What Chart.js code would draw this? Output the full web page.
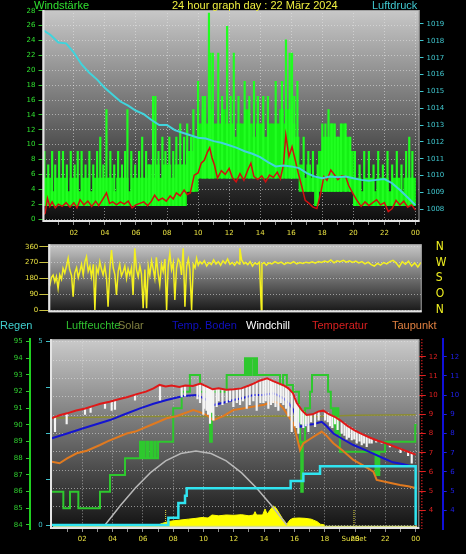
<!DOCTYPE html>
<html><head><meta charset="utf-8">
<script src="https://cdn.jsdelivr.net/npm/chart.js@4/dist/chart.umd.min.js"></script>
<style>
html,body{margin:0;padding:0;background:#000;}
body{width:466px;height:554px;position:relative;overflow:hidden;font-family:"Liberation Sans",Arial,sans-serif;}
canvas{position:absolute;left:0;}
.t{position:absolute;font-size:11px;white-space:nowrap;line-height:13px;}
</style></head><body>
<canvas id="c1" width="466" height="245" style="top:0"></canvas>
<canvas id="c2" width="466" height="84" style="top:236px"></canvas>
<canvas id="c3" width="466" height="224" style="top:330px"></canvas>
<div class="t" style="left:34px;top:-1px;color:#30e030">Windstärke</div>
<div class="t" style="left:172px;top:-1px;color:#f0f040">24 hour graph day : 22 März 2024</div>
<div class="t" style="left:372px;top:-1px;color:#40c8d0">Luftdruck</div>
<div class="t" style="left:0px;top:319px;color:#40d0d0">Regen</div>
<div class="t" style="left:66px;top:319px;color:#30c030">Luftfeuchte</div>
<div class="t" style="left:118px;top:319px;color:#808040">Solar</div>
<div class="t" style="left:172px;top:319px;color:#1010c0">Temp. Boden</div>
<div class="t" style="left:246px;top:319px;color:#ffffff">Windchill</div>
<div class="t" style="left:312px;top:319px;color:#d82020">Temperatur</div>
<div class="t" style="left:392px;top:319px;color:#e08040">Taupunkt</div>
<script>
// ---------- shared ----------
const hourTicks = [1,2,3,4,5,6,7,8,9,10,11,12,13,14,15,16,17,18,19,20,21,22,23,24];

// ---------- panel 1: wind & pressure ----------
const pressHours = [0,0.5,1,1.5,2,2.5,3,3.5,4,4.5,5,5.5,6,6.5,7,7.5,8,8.5,9,9.5,10,10.5,11,11.5,12,12.5,13,13.5,14,14.5,15,15.5,16,16.5,17,17.5,18,18.5,19,19.5,20,20.5,21,21.5,22,22.5,23,23.5,24];
const pressure = [1018.65,1018.35,1017.9,1017.85,1017.3,1016.6,1016.1,1015.7,1015.2,1014.8,1014.4,1014.15,1013.85,1013.65,1013.3,1013.0,1013.0,1012.7,1012.55,1012.4,1012.25,1012.2,1012.05,1011.95,1011.8,1011.65,1011.45,1011.3,1011.1,1010.8,1010.55,1010.6,1010.55,1010.45,1010.15,1009.95,1009.85,1009.95,1009.9,1009.95,1009.85,1009.75,1009.7,1009.75,1009.8,1009.55,1009.15,1008.7,1008.25];

const windAvgHours = [0,0.15,0.3,0.45,0.6,0.8,1,1.25,1.5,1.75,2,2.2,2.4,2.65,2.9,3.15,3.4,3.6,3.85,4.1,4.3,4.5,4.75,5,5.25,5.5,5.75,6,6.25,6.5,6.75,7,7.2,7.45,7.7,7.95,8.2,8.4,8.6,8.85,9.1,9.3,9.5,9.75,10,10.2,10.4,10.6,10.75,10.9,11.05,11.25,11.5,11.75,12,12.2,12.45,12.7,12.95,13.2,13.4,13.6,13.85,14.1,14.35,14.6,14.85,15.1,15.3,15.5,15.65,15.85,16.05,16.25,16.45,16.7,16.9,17.15,17.4,17.65,17.9,18.1,18.3,18.55,18.8,19,19.25,19.5,19.7,19.95,20.2,20.5,20.75,21,21.25,21.5,21.75,22,22.25,22.5,22.75,23,23.25,23.5,23.75,24];
const windAvg = [0.5,0.8,2.8,1.7,2.3,1.5,2.0,1.7,2.2,1.6,2.2,1.5,2.6,1.9,2.4,1.7,2.4,1.8,2.6,3.5,2.1,2.3,1.9,2.3,2.0,2.4,1.5,1.9,2.1,2.3,1.8,2.4,3.2,2.5,2.8,2.4,3.1,2.7,3.5,3.1,3.9,3.3,3.5,5.9,6.2,7.5,7.9,9.0,9.6,8.2,7.3,5.5,6.5,6.0,6.8,5.6,5.0,6.1,5.2,6.6,7.5,5.7,5.3,5.8,5.0,5.9,5.6,6.3,5.4,7.3,11.3,8.4,9.7,8.0,6.2,4.2,2.5,2.1,1.6,1.4,3.5,5.7,5.2,6.6,5.9,5.3,5.8,5.7,4.5,3.5,2.6,1.7,2.3,1.8,2.2,2.6,1.9,2.2,1.0,1.4,2.5,1.9,2.4,1.6,1.9,1.2];

// gusts, 15-minute bins: band low / band high
const gustBinLength = 0.25;
const gustLow = [
1.8,1.8,1.8,1.8,1.8,1.8,1.8,1.8,
1.8,1.8,1.8,1.8,1.8,1.8,1.8,1.8,
1.8,1.8,1.8,1.8,1.8,1.8,1.8,1.8,
1.8,1.8,1.8,1.8,1.8,1.8,1.8,1.8,
1.8,1.8,1.8,1.8,1.8,3.7,3.7,3.7,
5.5,5.5,5.5,5.5,5.5,5.5,5.5,5.5,
5.5,5.5,5.5,5.5,5.5,5.5,5.5,5.5,
5.5,5.5,5.5,5.5,5.5,5.5,5.5,5.5,
5.5,5.5,3.7,3.7,3.7,3.7,1.8,3.7,
3.7,3.7,3.7,3.7,3.7,3.7,3.7,3.7,
1.8,1.8,1.8,1.8,1.8,1.8,1.8,1.8,
1.8,1.8,1.8,1.8,1.8,1.8,1.8,1.8];
const gustHigh = [
5.5,5.5,3.7,5.5,5.5,5.5,3.7,5.5,
5.5,3.7,5.5,5.5,3.7,5.5,5.5,5.5,
5.5,5.5,3.7,5.5,5.5,5.5,3.7,5.5,
5.5,5.5,5.5,7.3,5.5,7.3,5.5,7.3,
7.3,5.5,7.3,7.3,7.3,9.1,9.1,11,
12.8,14.7,12.8,14.7,12.8,12.8,14.7,12.8,
12.8,11,12.8,12.8,14.7,12.8,11,12.8,
12.8,11,12.8,12.8,12.8,14.7,12.8,14.7,
12.8,11,7.3,5.5,7.3,5.5,5.5,9.1,
11,11,12.8,11,11,12.8,11,9.1,
5.5,5.5,3.7,5.5,5.5,3.7,5.5,5.5,
5.5,3.7,5.5,5.5,3.7,5.5,5.5,5.5];
const gustSpikeHours = [0.1,0.35,0.6,0.8,1.05,1.3,1.55,1.8,2.05,2.25,2.5,2.75,3.0,3.25,3.5,3.7,3.9,4.1,4.35,4.6,4.85,5.1,5.3,5.45,5.7,5.95,6.2,6.4,6.65,6.85,7.1,7.25,7.45,7.7,7.9,8.15,8.4,8.6,8.85,9.1,9.3,9.55,9.7,
10.0,10.3,10.45,10.7,10.8,10.95,11.3,11.55,11.87,12.1,12.3,12.6,13.0,13.3,13.6,13.85,14.2,14.5,15.0,15.4,15.66,15.9,16.05,16.2,16.4,
16.8,17.1,17.4,17.7,18.0,18.2,18.4,18.6,18.8,19.0,19.2,19.5,19.8,20.1,20.4,20.7,21.0,21.3,21.6,21.9,22.2,22.5,22.8,23.1,23.4,23.6,23.8];
const gustSpikeTop = [9.1,7.3,9.1,7.3,9.1,9.1,7.3,9.1,7.3,9.1,9.1,7.3,9.1,7.3,9.1,11,7.3,14.7,9.1,7.3,9.1,7.3,9.1,14.7,9.1,7.3,9.1,11,9.1,7.3,16.5,16.5,9.1,11,9.1,11,9.1,11,12.8,11,12.8,11,14.7,
18.5,16.5,16.5,27.7,22.3,22.3,22.3,16.5,25.9,16.5,22.3,16.5,18.5,16.5,18.5,16.5,16.5,16.5,18.5,18.5,24.1,22.3,22.3,16.5,18.5,
11,9.1,9.1,7.3,12.8,12.8,14.7,12.8,12.8,11,12.8,12.8,11,9.1,7.3,9.1,9.1,7.3,9.1,7.3,9.1,7.3,9.1,7.3,9.1,11,9.1];

// ---------- panel 2: wind direction ----------
const dirHours = [0,0.1,0.2,0.31,0.42,0.52,0.63,0.74,0.85,0.95,1.06,1.17,1.28,1.38,1.5,1.6,1.7,1.82,1.93,2.03,2.14,2.25,2.36,2.46,2.57,2.68,2.78,2.9,3.0,3.1,3.21,3.32,3.43,3.53,3.64,3.75,3.85,3.96,4.07,4.18,4.29,4.39,4.5,4.6,4.71,4.82,4.93,5.04,5.14,5.25,5.36,5.46,5.57,5.68,5.79,5.9,6.0,6.11,6.22,6.33,6.44,6.54,6.65,6.75,6.86,6.96,7.07,7.18,7.29,7.4,7.51,7.62,7.72,7.83,7.94,8.05,8.15,8.26,8.37,8.47,8.58,8.69,8.8,8.91,9.02,9.12,9.23,9.34,9.45,9.55,9.66,9.77,
9.9,10.05,10.2,10.35,10.5,10.65,10.8,10.95,11.1,11.25,11.4,11.55,11.7,11.85,12.0,12.15,12.3,12.34,12.45,12.6,12.7,12.85,13.0,13.15,13.3,13.45,13.6,13.72,13.76,13.9,14.05,14.2,14.4,14.6,14.8,15.0,15.2,15.4,15.6,15.8,16.0,16.2,16.4,16.6,16.8,17.0,17.2,17.4,17.6,17.8,18.0,18.2,18.4,18.6,18.8,19.0,19.2,19.4,19.6,19.8,20.0,20.2,20.4,20.6,20.8,21.0,21.2,21.4,21.6,21.8,22.0,22.2,22.4,22.6,22.8,23.0,23.2,23.4,23.6,23.8,24.0];
const windDir = [150,142,185,199,160,190,123,200,175,237,210,250,294,230,195,76,210,240,185,218,260,200,275,303,220,250,190,260,0,240,210,275,230,200,250,180,19,230,341,240,200,85,220,260,195,218,250,180,235,200,240,85,351,230,190,250,205,10,230,10,250,200,280,237,180,300,210,142,260,220,290,0,250,322,230,270,57,240,290,275,200,351,19,250,290,230,0,260,240,294,255,275,
262,280,250,270,258,285,262,275,255,280,265,290,260,270,255,275,262,351,285,262,270,258,275,250,268,260,272,0,262,270,255,268,262,275,265,272,260,270,265,275,262,270,265,272,268,274,266,276,270,278,272,285,268,280,275,282,272,280,270,278,268,275,262,272,258,250,265,255,270,262,275,282,268,245,275,260,278,250,268,245,270];
const dirTicks = [0,90,180,270,360];
const dirLetters = ['N','O','S','W','N'];

// ---------- panel 3 ----------
const tempHours = [0,0.5,1,1.6,2.2,2.8,3.2,3.8,4.4,5,5.6,6.2,6.7,7.1,7.5,7.9,8.4,8.8,9.3,9.8,10.2,10.6,11,11.5,12,12.5,13,13.3,13.7,14.2,14.6,15,15.3,15.6,15.9,16.15,16.5,16.8,17.2,17.6,17.9,18.3,18.7,19,19.5,20,20.5,21,21.5,22,22.5,23,23.5,24];
const temperature = [8.8,8.95,9.05,9.2,9.3,9.45,9.55,9.65,9.78,9.9,10.05,10.18,10.35,10.53,10.45,10.5,10.42,10.5,10.48,10.6,10.45,10.3,10.35,10.28,10.3,10.35,10.5,10.6,10.75,10.87,10.73,10.6,10.5,10.35,10.1,9.6,9.2,8.96,9.0,9.15,9.19,9.0,8.85,8.7,8.4,8.15,7.95,7.78,7.62,7.5,7.35,7.2,7.05,6.9];

const wcHours = [0.2,0.97,2.18,2.55,3.5,3.94,4.16,5.48,7.13,8.56,8.78,9.6,9.77,9.99,10.05,10.2,10.3,10.43,10.55,10.65,10.87,11.0,11.25,11.53,11.75,11.97,12.2,12.41,12.6,12.85,13.05,13.29,13.51,13.75,13.95,14.1,14.28,14.45,14.6,14.75,14.94,15.1,15.27,15.45,15.6,15.82,16.04,16.15,16.26,16.45,16.59,16.75,16.92,17.1,17.36,17.6,18.02,18.2,18.35,18.5,18.68,18.85,19.12,19.3,19.45,19.6,19.78,19.95,20.11,20.3,20.44,20.6,20.77,20.95,21.1,21.4,21.76,22.3,23.0,23.5,23.74];
const windchillLow = [8.1,8.5,9.0,9.1,9.3,9.2,9.25,9.74,9.74,9.9,9.95,9.8,9.6,9.0,9.3,9.2,9.0,8.53,9.1,8.7,9.4,9.7,9.5,9.6,9.7,9.4,9.6,9.5,9.7,9.3,9.5,9.7,9.2,9.6,9.6,9.7,9.3,9.5,9.6,9.4,9.2,9.6,9.5,9.3,8.9,8.09,8.4,8.3,8.0,8.5,8.3,8.4,8.1,8.6,8.35,8.7,8.7,8.6,8.4,8.3,8.5,8.2,8.0,7.9,7.7,7.8,7.66,7.7,7.5,7.6,7.4,7.5,7.31,7.5,7.5,7.55,7.49,7.3,7.0,6.85,6.45];
const windchillHigh = [8.85,9.05,9.3,9.35,9.55,9.65,9.7,10.0,10.5,10.45,10.48,10.55,10.6,10.55,10.5,10.45,10.4,10.35,10.3,10.3,10.32,10.35,10.3,10.28,10.28,10.3,10.3,10.33,10.38,10.45,10.52,10.6,10.7,10.75,10.8,10.85,10.87,10.8,10.73,10.65,10.6,10.55,10.5,10.4,10.35,10.15,9.9,9.6,9.5,9.25,9.15,9.0,8.97,9.0,9.05,9.15,9.15,9.1,9.0,8.95,8.87,8.8,8.62,8.55,8.45,8.38,8.3,8.2,8.1,8.05,7.97,7.9,7.85,7.8,7.75,7.65,7.55,7.42,7.2,7.05,7.0];

const soilHours = [0,1,2.07,3.83,4.8,5.81,6.7,7.57,8.67,9.55,10.1,10.65,11.3,11.97,12.6,13.29,13.9,14.6,14.9,15.27,15.6,15.93,16.1,16.37,16.81,17.3,17.8,18.1,18.57,19.2,19.89,20.5,21.2,21.87,22.5,23.2,23.85];
const soilTemp = [7.75,8.0,8.27,8.7,9.0,9.31,9.55,9.74,9.95,10.0,9.8,9.48,9.6,9.74,9.85,10.0,10.0,10.09,10.0,9.83,9.6,9.22,8.9,8.35,8.44,8.5,8.61,8.4,8.0,7.7,7.4,7.2,6.95,6.71,6.5,6.4,6.27];

const dewHours = [0,0.5,1,1.63,2.3,3.17,3.7,4.93,5.5,6.25,7.0,7.57,8.2,9.33,9.8,10.21,10.65,11.3,11.97,12.6,13.29,14.0,14.6,14.9,15.27,15.93,16.1,16.37,16.59,17.0,17.8,18.1,18.57,19.2,19.89,20.5,21.21,21.43,22.2,22.97,23.5,24.07];
const dewPoint = [6.53,6.45,6.7,6.97,7.1,7.4,7.6,8.0,8.1,8.35,8.6,8.79,8.9,9.22,9.1,8.96,8.7,8.9,9.22,9.3,9.4,9.5,9.66,9.6,9.31,8.53,8.0,7.14,7.49,7.7,8.1,7.9,7.49,7.1,6.62,6.35,6.01,5.58,5.45,5.32,5.25,5.15];

const humHours = [0,0.75,1.19,1.74,3.17,3.83,4.82,5.81,5.9,6.0,6.1,6.25,6.35,6.5,6.6,6.75,6.85,7.0,8.0,8.56,9.1,9.77,10.35,10.43,10.55,10.6,11.53,12.74,12.85,12.95,13.05,13.15,13.3,13.4,13.53,15.05,15.25,15.5,15.9,16.3,16.37,16.45,16.55,16.7,17.03,17.16,18.22,18.4,18.55,18.6,18.7,18.8,18.9,19.0,21.3,21.35,21.45,21.5,21.6,21.98,23.97,24.07];
const humidity = [86,85,86,85,86,87,88,89,88,89,88,89,88,89,88,89,88,89,91,92,93,92,91,89,91,92,93,94,93,94,93,94,93,94,93,92.4,93,92.4,92,91,89,86,89,91,92,93,92,91,90,91,89.5,91,89.5,88.4,88.4,87,88.4,87,88.4,89,90,90];

const solarHours = [7.0,7.3,7.65,8.0,8.5,9.0,9.5,9.9,10.3,10.56,11.0,11.5,12.0,12.5,13.0,13.3,13.4,13.5,13.9,14.06,14.2,14.4,14.6,14.8,15.0,15.2,15.5,15.7,15.9,16.3,16.7,17.1,17.5,17.7,18.0];
const solar = [84.0,84.1,84.2,84.25,84.3,84.35,84.4,84.45,84.42,84.6,84.55,84.6,84.58,84.62,84.55,84.6,84.8,84.6,84.6,84.96,84.65,84.9,85.14,85.0,84.7,84.4,84.05,84.3,84.4,84.42,84.4,84.35,84.2,84.05,84.0];
const solarBaseHours = [0.07,24.1];
const solarBase = [83.86,83.86];
const solarMaxHours = [0,4,8,12,15,17,20,24];
const solarMax = [90.42,90.48,90.52,90.5,90.54,90.5,90.58,90.62];
const sunCurveHours = [3.5,4.5,5.5,6.5,7.5,8.5,9.5,10.5,11.5,12.5,13.5,14.5,15.5];
const sunCurve = [84.0,85.15,86.22,87.14,87.85,88.29,88.44,88.29,87.85,87.14,86.22,85.15,84.0];

const rainHours = [0,7.68,8.34,8.78,8.89,15.75,16.59,17.69,23.96,24.0];
const rain = [0,0.2,0.6,0.8,1.0,1.2,1.4,1.6,1.6,0];

const sunriseHour = 7.5;
const sunsetHour = 19.93;

// ---------- helpers ----------
Chart.defaults.font.family = '"DejaVu Sans", Verdana, sans-serif';
Chart.defaults.font.size = 7;
Chart.defaults.animation = false;
const gridCol = 'rgba(230,230,230,0.55)';
const clear = 'rgba(0,0,0,0)';
const pts = (xs, ys) => xs.map((x, i) => ({x, y: ys[i]}));
const pad2 = v => String(v % 24).padStart(2, '0');
const plain = v => String(v);
const isMajorHour = v => v % 2 === 0;

function panelPlugin(topCol, botCol) {
  return {
    id: 'panel',
    beforeDraw(chart) {
      const {ctx, chartArea: a} = chart;
      const g = ctx.createLinearGradient(0, a.top, 0, a.bottom);
      g.addColorStop(0, topCol);
      g.addColorStop(1, botCol);
      ctx.save();
      ctx.fillStyle = g;
      ctx.fillRect(a.left, a.top, a.right - a.left, a.bottom - a.top);
      ctx.restore();
    },
    afterDraw(chart) {
      const {ctx, chartArea: a} = chart;
      ctx.save();
      ctx.strokeStyle = '#a0a0a0';
      ctx.lineWidth = 1;
      ctx.strokeRect(a.left + 0.5, a.top + 0.5, a.right - a.left - 1, a.bottom - a.top - 1);
      ctx.strokeStyle = '#e4e4e4';
      ctx.lineWidth = 2;
      ctx.beginPath();
      ctx.moveTo(a.left + 1, a.top);
      ctx.lineTo(a.left + 1, a.bottom - 1);
      ctx.lineTo(a.right, a.bottom - 1);
      ctx.stroke();
      ctx.restore();
    }
  };
}
const common = {
  responsive: false, animation: false, events: [],
  plugins: {legend: {display: false}, tooltip: {enabled: false}},
};
const lineDs = (data, axis, color, width, order, extra) => Object.assign({
  type: 'line', data, yAxisID: axis, borderColor: color, backgroundColor: color,
  borderWidth: width, pointRadius: 0, tension: 0, order
}, extra || {});

// ---------- chart 1 ----------
const gustBand = gustLow.map((lo, i) => ({x: i * gustBinLength + gustBinLength / 2, y: [lo, gustHigh[i]]}));
const gustSpikes = gustSpikeHours.map((h, i) => ({x: h, y: [gustLow[Math.min(95, Math.floor(h / gustBinLength))], gustSpikeTop[i]]}));

new Chart(document.getElementById('c1'), {
  type: 'line',
  data: {datasets: [
    lineDs(pts(pressHours, pressure), 'press', '#40d4dc', 2, 0),
    lineDs(pts(windAvgHours, windAvg), 'wind', '#d01010', 1.5, 1),
    {type: 'bar', data: gustSpikes, yAxisID: 'wind', backgroundColor: '#20ff20', barThickness: 1.5, grouped: false, order: 2},
    {type: 'bar', data: gustBand, yAxisID: 'wind', backgroundColor: '#14f014', barThickness: 4, grouped: false, order: 3}
  ]},
  options: Object.assign({}, common, {
    layout: {padding: {top: 10, bottom: 0, left: 0, right: 0}},
    scales: {
      x: {type: 'linear', min: -0.02, max: 24.26, offset: false,
        afterBuildTicks: s => { s.ticks = hourTicks.map(v => ({value: v})); },
        afterFit: s => { s.height = 23; },
        ticks: {color: '#e8e040', autoSkip: false, maxRotation: 0, padding: 4, callback: v => (isMajorHour(v) ? pad2(v) : '')},
        grid: {offset: false, color: c => (c.tick && isMajorHour(c.tick.value) ? gridCol : clear),
          drawTicks: true, tickLength: 3, tickColor: '#909090'},
        border: {display: false, dash: [1, 2]}},
      wind: {position: 'left', min: -0.4, max: 28.1,
        afterFit: s => { s.width = 42.5; },
        ticks: {stepSize: 2, includeBounds: false, autoSkip: false, color: '#30e030', padding: 3, callback: plain},
        grid: {color: gridCol, tickLength: 4, tickColor: '#30c030'},
        border: {display: false, dash: [1, 2]}},
      press: {position: 'right', min: 1007.25, max: 1019.83,
        afterFit: s => { s.width = 46.5; },
        ticks: {stepSize: 1, includeBounds: false, autoSkip: false, color: '#40c8d0', padding: 3, callback: plain},
        grid: {drawOnChartArea: false, tickLength: 4, tickColor: '#40c8d0'},
        border: {display: false}}
    }
  }),
  plugins: [panelPlugin('#c8c8c8', '#0c0c0c')]
});

// ---------- chart 2 ----------
new Chart(document.getElementById('c2'), {
  type: 'line',
  data: {datasets: [lineDs(pts(dirHours, windDir), 'dir', '#f4f020', 1.5, 0)]},
  options: Object.assign({}, common, {
    layout: {padding: {top: 8.3, bottom: 7.7, left: 0, right: 0}},
    scales: {
      x: {type: 'linear', min: 0, max: 24.05, offset: false, display: false},
      dir: {position: 'left', min: -13, max: 373.6,
        afterFit: s => { s.width = 48.3; },
        afterBuildTicks: s => { s.ticks = dirTicks.map(v => ({value: v})); },
        ticks: {color: '#e8e040', padding: 1, autoSkip: false, callback: plain},
        grid: {color: gridCol, tickLength: 9, tickColor: '#c8c040'},
        border: {display: false, dash: [1, 2]}},
      dirLetters: {position: 'right', min: -13, max: 373.6,
        afterFit: s => { s.width = 44.3; },
        afterBuildTicks: s => { s.ticks = dirTicks.map(v => ({value: v})); },
        ticks: {color: '#f0f020', padding: 0, autoSkip: false, font: {family: '"Liberation Sans Narrow","DejaVu Sans Condensed",Arial', size: 12},
          callback: (v, i) => dirLetters[i]},
        grid: {drawOnChartArea: false, drawTicks: true, tickLength: 14, tickColor: clear},
        border: {display: false}}
    }
  }),
  plugins: [panelPlugin('#c8c8c8', '#161616')]
});

// ---------- chart 3 ----------
const rainTickVals = [0,0.5,1,1.25,1.5,2,2.5,3,3.5,3.75,4,4.5,5];
const x3Ticks = hourTicks.concat([sunsetHour]).sort((a, b) => a - b);
const redAxisPlugin = {
  id: 'redAxis',
  afterDraw(chart) {
    const s = chart.scales.temp, ctx = chart.ctx;
    ctx.save();
    ctx.strokeStyle = '#e02020';
    ctx.lineWidth = 1.5;
    ctx.setLineDash([1, 2]);
    ctx.beginPath();
    ctx.moveTo(s.left + 2.5, s.top);
    ctx.lineTo(s.left + 2.5, s.bottom);
    ctx.stroke();
    ctx.restore();
  }
};
new Chart(document.getElementById('c3'), {
  type: 'line',
  data: {datasets: [
    lineDs(pts(rainHours, rain), 'rain', '#30e4f0', 2.5, 0, {stepped: true}),
    lineDs(pts(tempHours, temperature), 'temp', '#e01818', 2, 1),
    {type: 'bar', data: wcHours.map((h, i) => ({x: h, y: [windchillLow[i], windchillHigh[i]]})), yAxisID: 'temp', backgroundColor: '#f4f4f4', barThickness: 1.5, grouped: false, order: 2},
    lineDs(pts(soilHours, soilTemp), 'temp', '#1414d0', 2, 3),
    lineDs(pts(dewHours, dewPoint), 'temp', '#e07a20', 2, 4),
    lineDs(pts(humHours, humidity), 'hum', '#2ec82e', 2, 5, {stepped: true}),
    lineDs(pts(solarMaxHours, solarMax), 'hum', '#8c8c30', 1.5, 6),
    lineDs(pts(sunCurveHours, sunCurve), 'hum', '#b8b8b8', 1.5, 7),
    lineDs([{x: sunriseHour, y: 84.0}, {x: sunriseHour, y: 84.9}], 'hum', '#e8e040', 1, 8, {borderDash: [1, 1]}),
    lineDs([{x: sunsetHour, y: 84.0}, {x: sunsetHour, y: 84.9}], 'hum', '#e8e040', 1, 8, {borderDash: [1, 1]}),
    lineDs(pts(solarBaseHours, solarBase), 'hum', '#d8e088', 3, 9),
    lineDs(pts(solarHours, solar), 'hum', '#ffff00', 1, 10, {fill: 'start', backgroundColor: '#ffff00'})
  ]},
  options: Object.assign({}, common, {
    layout: {padding: {top: 9.3, bottom: 0, left: 0, right: 0}},
    scales: {
      x: {type: 'linear', min: -0.13, max: 24.24, offset: false,
        afterBuildTicks: s => { s.ticks = x3Ticks.map(v => ({value: v})); },
        afterFit: s => { s.height = 25; },
        ticks: {color: '#e8e040', autoSkip: false, maxRotation: 0, padding: 3,
          callback: v => (v === sunsetHour ? 'SunSet' : (isMajorHour(v) ? pad2(v) : ''))},
        grid: {offset: false, color: c => (c.tick && isMajorHour(c.tick.value) ? gridCol : clear),
          tickColor: c => (c.tick && c.tick.value === sunsetHour ? clear : '#909090'), tickLength: 3},
        border: {display: false, dash: [1, 2]}},
      hum: {position: 'left', weight: 1, min: 83.76, max: 95.14,
        afterFit: s => { s.width = 30; },
        ticks: {stepSize: 1, includeBounds: false, autoSkip: false, color: '#30d030', padding: 3.3, callback: plain},
        grid: {drawOnChartArea: false, tickLength: 4, tickColor: '#30d030'},
        border: {display: true, color: '#20d020', width: 2}},
      rain: {position: 'left', weight: 0, min: -0.109, max: 5.065,
        afterFit: s => { s.width = 20; },
        afterBuildTicks: s => { s.ticks = rainTickVals.map(v => ({value: v})); },
        ticks: {color: '#40c0c8', padding: 3.3, autoSkip: false, callback: v => (v === 0 || v === 5 ? String(v) : '')},
        grid: {color: c => (c.tick && c.tick.value % 0.5 === 0 ? gridCol : clear),
          tickColor: c => (c.tick && c.tick.value % 1.25 === 0 ? '#40c0c8' : clear), tickLength: 4},
        border: {display: false, dash: [1, 2]}},
      temp: {position: 'right', weight: 0, min: 3.026, max: 12.906,
        afterFit: s => { s.width = 23.4; },
        ticks: {stepSize: 1, includeBounds: false, autoSkip: false, color: '#e02020', padding: 3, callback: plain},
        grid: {drawOnChartArea: false, tickLength: 6.5, tickColor: '#e02020'},
        border: {display: false}},
      soil: {position: 'right', weight: 1, min: 3.026, max: 12.906,
        afterFit: s => { s.width = 23.3; },
        ticks: {stepSize: 1, includeBounds: false, autoSkip: false, color: '#2020e8', padding: 3.5, callback: plain},
        grid: {drawOnChartArea: false, tickLength: 4, tickColor: '#2020e8'},
        border: {display: true, color: '#1010d8', width: 2}}
    }
  }),
  plugins: [panelPlugin('#cacaca', '#121212'), redAxisPlugin]
});
</script>
</body></html>
